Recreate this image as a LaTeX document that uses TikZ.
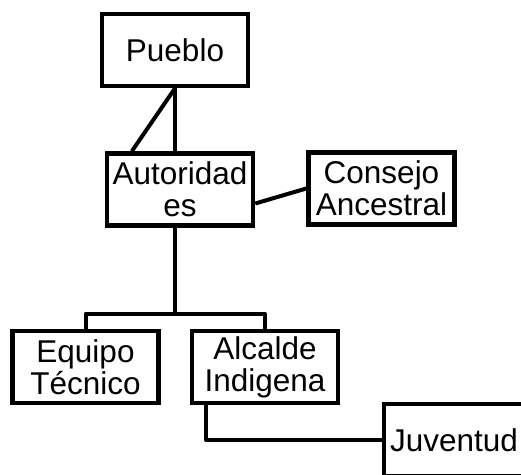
\documentclass[tikz,border=0pt]{standalone}
\usepackage{fontspec}
\setmainfont{Liberation Sans}
\usetikzlibrary{calc}
\tikzset{orgbox/.style={draw, line width=4.5pt, minimum width=146pt, minimum height=72pt, inner sep=1pt, align=center, font=\fontsize{31.5}{32}\selectfont},
  link/.style={line width=4pt, line join=round}}
\begin{document}
\begin{tikzpicture}[x=1pt, y=-1pt]
      \useasboundingbox (0,0) rectangle (521,474);
      \clip (0,0) rectangle (521,474);
      \node[orgbox] (pueblo) at (175,50) {Pueblo};
      \node[orgbox] (autoridades) at (180,189.5) {Autoridad\\es};
      \node[orgbox] (consejo) at (381.5,188.5) {Consejo\\Ancestral};
      \node[orgbox] (equipo) at (85.5,367) {Equipo\\Técnico};
      \node[orgbox] (alcalde) at (265,367) {Alcalde\\Indigena};
      \node[orgbox, minimum width=140pt] (juventud) at (454,440) {Juventud};
      \draw[link] (pueblo.south) -- (pueblo.south |- autoridades.north);
      \draw[link] (pueblo.south) -- ($(autoridades.north west)!0.18!(autoridades.north east)$);
      \draw[link] ([yshift=-14pt]autoridades.east) -- (consejo.west);
      \draw[link] (autoridades.south -| pueblo.south) -- ++(0,86);
      \draw[link] (equipo.north) -- ++(0,-15) -| (alcalde.north);
      \draw[link] ([xshift=-59pt]alcalde.south) |- (juventud.west);
\end{tikzpicture}
\end{document}
